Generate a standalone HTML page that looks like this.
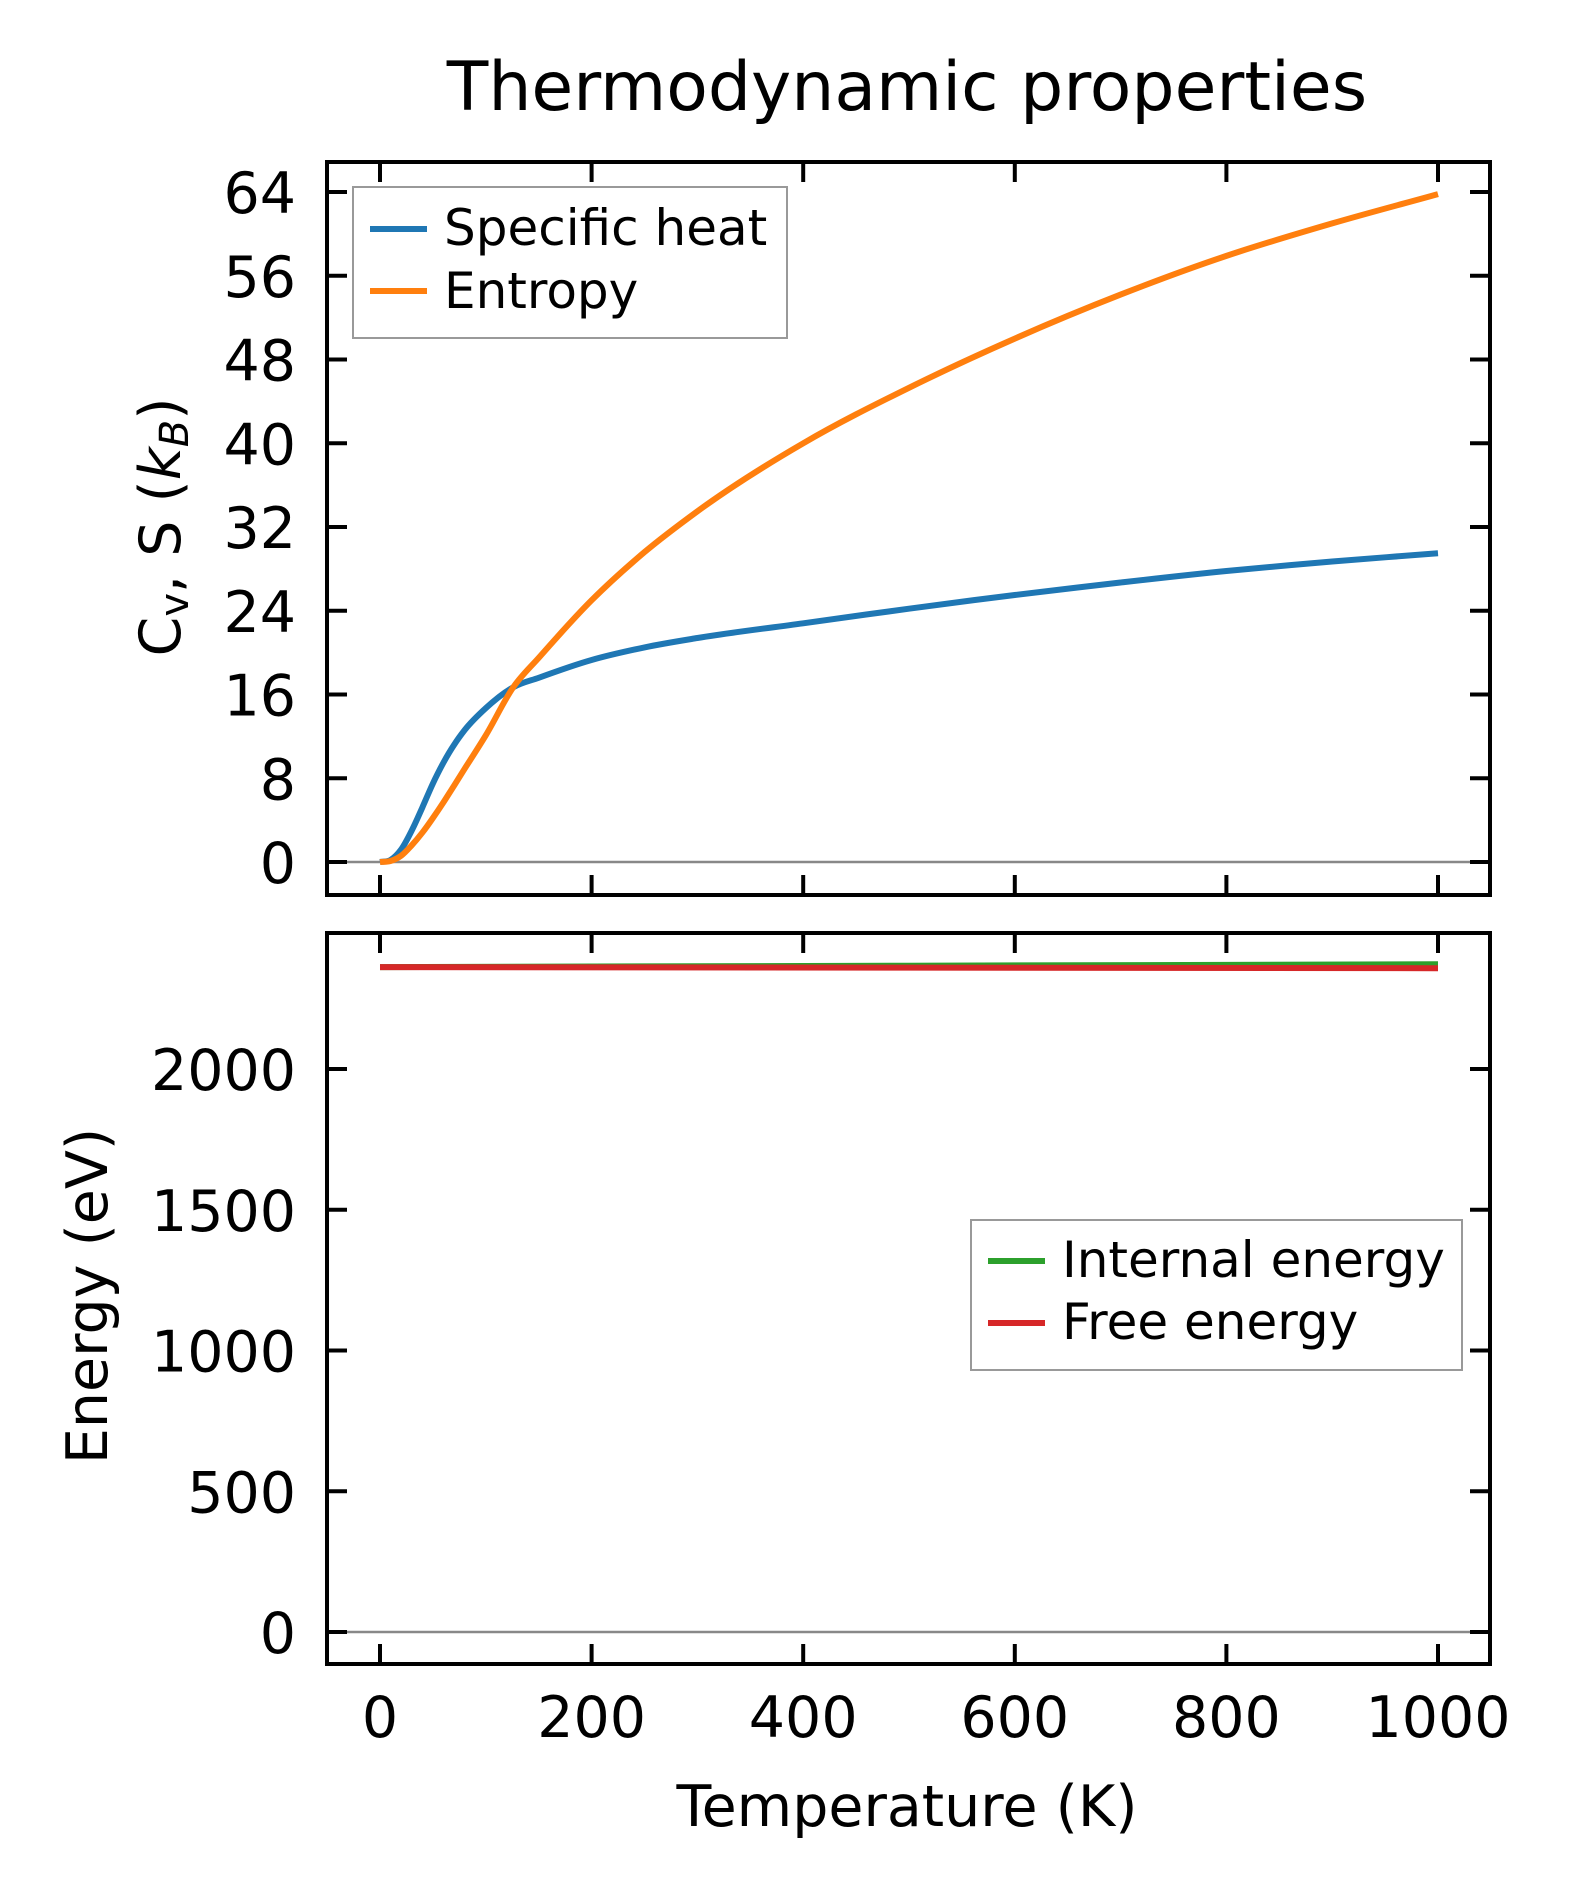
<!DOCTYPE html>
<html><head><meta charset="utf-8"><style>
html,body{margin:0;padding:0;background:#fff}
svg{display:block;font-family:"DejaVu Sans","Liberation Sans",sans-serif}
</style></head><body>
<svg id="chart" width="1572" height="1901" viewBox="0 0 1572 1901" xmlns="http://www.w3.org/2000/svg">
<rect width="1572" height="1901" fill="#fff"/>
<text x="907" y="110" font-size="68" text-anchor="middle">Thermodynamic properties</text>
<g id="top"></g>
<g id="bot"></g>
<text transform="translate(180,527) rotate(-90)" font-size="57" text-anchor="middle">C<tspan font-size="40" dy="8">v</tspan><tspan dy="-8">, S (</tspan><tspan font-style="italic">k</tspan><tspan font-size="40" font-style="italic" dy="8">B</tspan><tspan dy="-8">)</tspan></text>
<text transform="translate(107,1296) rotate(-90)" font-size="57" text-anchor="middle">Energy (eV)</text>
<text x="907" y="1826" font-size="57" text-anchor="middle">Temperature (K)</text>
<g>
<rect x="353" y="187" width="434" height="151" fill="#fff" stroke="#999" stroke-width="2"/>
<line x1="370" y1="229" x2="427" y2="229" stroke="#1f77b4" stroke-width="6"/>
<text x="444" y="245" font-size="50">Specific heat</text>
<line x1="370" y1="291" x2="427" y2="291" stroke="#ff7f0e" stroke-width="6"/>
<text x="444" y="308" font-size="50">Entropy</text>
</g>
<g>
<rect x="971" y="1220" width="491" height="150" fill="#fff" stroke="#999" stroke-width="2"/>
<line x1="988" y1="1261" x2="1045" y2="1261" stroke="#2ca02c" stroke-width="6"/>
<text x="1062" y="1277" font-size="50">Internal energy</text>
<line x1="988" y1="1323" x2="1045" y2="1323" stroke="#d62728" stroke-width="6"/>
<text x="1062" y="1339" font-size="50">Free energy</text>
</g>
</svg>
<script>
const temps = [0,10,20,30,40,50,60,70,80,100,126,150,200,250,300,400,500,600,700,800,900,1000];
const cvVals = [0,0.2,1.2,3,5.2,7.5,9.5,11.2,12.6,14.7,16.7,17.6,19.3,20.5,21.4,22.8,24.2,25.5,26.7,27.8,28.7,29.5];
const sVals = [0,0.1,0.6,1.6,2.8,4.2,5.7,7.3,8.9,12.1,16.7,19.5,25.0,29.6,33.5,40.0,45.3,50.0,54.2,57.9,61.0,63.8];
const eTemps = [0,1000];
const uVals = [2362,2372];
const fVals = [2362,2358];
const xTicks = [0,200,400,600,800,1000];
const topYTicks = [0,8,16,24,32,40,48,56,64];
const botYTicks = [0,500,1000,1500,2000];

const NS = "http://www.w3.org/2000/svg";
const L = 327, R = 1490;
const xs = t => 380 + (t - 0) * (1438 - 380) / 1000;
const yTop = v => 862 - v * (862 - 192) / 64;
const yBot = v => 1632 - v * (1632 - 1069) / 2000;

function mk(tag, attrs, parent) {
  const e = document.createElementNS(NS, tag);
  for (const k in attrs) e.setAttribute(k, attrs[k]);
  parent.appendChild(e);
  return e;
}
function panel(g, top, bottom, yf, yticks, name) {
  const z = mk('line', {x1: L, x2: R, y1: yf(0), y2: yf(0), stroke: '#888', 'stroke-width': 2.5}, g);
  
  
  xTicks.forEach(v => {
    const x = xs(v);
    mk('line', {x1: x, x2: x, y1: top, y2: top + 20, stroke: '#000', 'stroke-width': 4}, g);
    mk('line', {x1: x, x2: x, y1: bottom, y2: bottom - 20, stroke: '#000', 'stroke-width': 4}, g);
  });
  yticks.forEach(v => {
    const y = yf(v);
    mk('line', {x1: L, x2: L + 20, y1: y, y2: y, stroke: '#000', 'stroke-width': 4}, g);
    mk('line', {x1: R, x2: R - 20, y1: y, y2: y, stroke: '#000', 'stroke-width': 4}, g);
    const t = mk('text', {x: 296, y: y + 21, 'font-size': 57, 'text-anchor': 'end'}, g);
    
    
    t.textContent = v;
  });
}
function series(g, xsArr, ysArr, yf, color, name) {
  const n = xsArr.length;
  const P = xsArr.map((t, i) => [xs(t), yf(ysArr[i])]);
  // derivative (dy/dx) per point, non-uniform finite differences
  const m = P.map((p, i) => {
    if (n < 2) return 0;
    if (i === 0) return (P[1][1] - P[0][1]) / (P[1][0] - P[0][0]);
    if (i === n - 1) return (P[n-1][1] - P[n-2][1]) / (P[n-1][0] - P[n-2][0]);
    const s0 = (P[i][1] - P[i-1][1]) / (P[i][0] - P[i-1][0]);
    const s1 = (P[i+1][1] - P[i][1]) / (P[i+1][0] - P[i][0]);
    const h0 = P[i][0] - P[i-1][0], h1 = P[i+1][0] - P[i][0];
    return (s0 * h1 + s1 * h0) / (h0 + h1);
  });
  let d = 'M' + P[0][0].toFixed(1) + ' ' + P[0][1].toFixed(1);
  for (let i = 0; i < n - 1; i++) {
    const h = (P[i+1][0] - P[i][0]) / 3;
    d += ' C' + (P[i][0] + h).toFixed(1) + ' ' + (P[i][1] + m[i] * h).toFixed(1) + ' ' +
         (P[i+1][0] - h).toFixed(1) + ' ' + (P[i+1][1] - m[i+1] * h).toFixed(1) + ' ' +
         P[i+1][0].toFixed(1) + ' ' + P[i+1][1].toFixed(1);
  }
  const p = mk('path', {d: d, fill: 'none', stroke: color, 'stroke-width': 6, 'stroke-linejoin': 'round'}, g);
  
  
}
function frame(g, top, bottom, name) {
  const r = mk('rect', {x: L, y: top, width: R - L, height: bottom - top, fill: 'none', stroke: '#000', 'stroke-width': 4}, g);
  
  
}
const gt = document.getElementById('top');
panel(gt, 162, 895, yTop, topYTicks, 'top');
series(gt, temps, cvVals, yTop, '#1f77b4', 'specific-heat-line');
series(gt, temps, sVals, yTop, '#ff7f0e', 'entropy-line');
frame(gt, 162, 895, 'top');

const gb = document.getElementById('bot');
panel(gb, 933, 1664, yBot, botYTicks, 'bottom');
series(gb, eTemps, uVals, yBot, '#2ca02c', 'internal-energy-line');
series(gb, eTemps, fVals, yBot, '#d62728', 'free-energy-line');
frame(gb, 933, 1664, 'bottom');
xTicks.forEach(v => {
  const t = mk('text', {x: xs(v), y: 1737, 'font-size': 57, 'text-anchor': 'middle'}, gb);
  
  
  t.textContent = v;
});
</script>
</body></html>
